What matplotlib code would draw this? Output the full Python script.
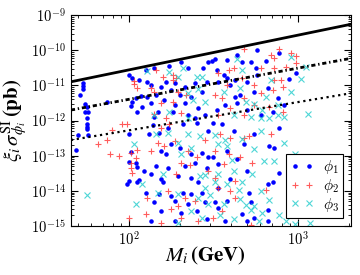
import numpy as np
import matplotlib
matplotlib.use('Agg')
import matplotlib.pyplot as plt

# values, stored as log10(M / GeV) and log10(xi*sigma / pb)
log_m_phi1 = [2.00, 2.02, 2.06, 1.73, 1.73, 1.73, 1.71, 2.04, 2.07, 1.87, 1.74, 1.75, 1.76, 1.74, 1.75, 2.01, 2.05, 2.02,
              2.10, 2.15, 2.24, 2.31, 2.35, 2.44, 2.47, 2.11, 2.13, 2.22, 2.27, 2.33, 2.19, 2.39, 2.46, 2.11, 2.16, 2.25,
              2.30, 2.37, 2.43, 2.13, 2.21, 2.27, 2.33, 2.41, 2.08, 2.17, 2.26, 2.35, 2.45, 2.15, 2.39,
              2.49, 2.51, 2.58, 2.64, 2.76, 2.72, 2.67, 2.75, 2.81, 2.89, 2.52, 2.56, 2.58, 2.53, 2.63, 2.70, 2.76, 2.60,
              2.66, 2.63, 2.57, 2.64, 2.74, 2.82, 2.88, 2.52, 2.70, 2.78, 2.85, 2.99, 2.95, 2.92,
              1.75, 1.75, 1.75, 1.70, 1.76, 2.00, 1.69, 2.01, 2.04, 2.00, 2.05, 2.00, 1.99, 2.06, 2.05,
              2.14, 2.18, 2.23, 2.32, 2.40, 2.47, 2.12, 2.19, 2.22, 2.25, 2.30, 2.37, 2.43, 2.47, 2.09, 2.16, 2.23, 2.33,
              2.39, 2.46, 2.13, 2.19, 2.29, 2.37, 2.41, 2.20, 2.10, 2.18, 2.25, 2.32, 2.37, 2.43, 2.15, 2.27, 2.35, 2.45,
              2.19, 2.31, 2.40, 2.27, 2.13, 2.46,
              2.50, 2.55, 2.62, 2.68, 2.74, 2.83, 2.86, 2.89, 2.50, 2.53, 2.58, 2.64, 2.70, 2.85, 2.82, 2.53, 2.60, 2.71,
              2.51, 2.58, 2.72, 2.53, 2.67, 2.74, 2.57, 2.70, 2.82, 2.89, 2.82]
log_s_phi1 = [-10.69, -10.78, -10.85, -10.93, -11.02, -11.10, -11.27, -11.35, -11.30, -11.46, -11.53, -11.61, -11.75, -11.75,
              -11.92, -11.58, -11.76, -11.46,
              -10.56, -10.51, -10.44, -10.33, -10.50, -10.49, -10.33, -10.90, -10.99, -10.90, -10.94, -11.04, -11.04,
              -10.94, -10.90, -11.32, -11.27, -11.13, -11.27, -11.32, -11.18, -11.51, -11.42, -11.56, -11.51, -11.65,
              -11.61, -11.75, -11.75, -11.84, -11.84, -11.89, -11.94,
              -10.30, -10.26, -10.28, -10.14, -9.99, -10.33, -10.34, -10.51, -10.31, -10.09, -10.56, -10.71, -10.78,
              -10.90, -10.85, -10.90, -10.71, -10.99, -11.27, -11.32, -11.56, -11.51, -11.18, -11.08, -11.37, -11.70,
              -11.70, -11.84, -11.75, -10.66, -10.82, -11.56,
              -12.10, -12.17, -12.24, -12.41, -12.41, -12.37, -12.84, -12.88, -13.22, -13.17, -13.32, -13.72, -13.79,
              -13.70, -13.74,
              -12.13, -12.34, -12.20, -12.11, -12.06, -12.30, -12.39, -12.86, -12.96, -12.67, -12.77, -12.96, -12.91,
              -13.05, -13.43, -13.29, -13.34, -13.29, -13.20, -13.34, -13.53, -13.67, -13.57, -13.62, -13.76, -13.76,
              -14.05, -14.09, -14.14, -14.05, -14.09, -14.05, -14.33, -14.28, -14.38, -14.33, -14.57, -14.62, -14.57,
              -14.85, -14.85, -14.80,
              -12.06, -12.11, -12.30, -12.67, -12.39, -12.72, -12.77, -12.20, -13.05, -13.24, -12.86, -13.10, -13.43,
              -13.76, -13.81, -13.91, -13.67, -14.05, -14.33, -14.28, -14.33, -14.48, -14.66, -14.76, -14.87, -14.87,
              -14.85, -13.48, -14.54]

log_m_phi2 = [2.03, 2.03, 2.05, 2.16, 2.20, 2.26, 2.26, 2.13, 2.28, 2.15, 2.29, 2.34, 2.19, 2.26, 2.15, 2.31, 2.22,
              2.68, 2.84, 2.86, 2.89, 2.62, 2.59, 2.53, 2.78, 2.67, 2.86, 2.86, 2.74, 2.58, 2.51, 2.78, 2.85, 2.68, 2.55,
              2.74, 2.60, 2.83, 2.68, 2.53, 2.96, 2.99, 2.93, 2.99, 2.90, 2.91, 2.91,
              1.96, 1.99, 1.90, 1.87, 1.82, 1.89, 1.94, 2.01, 2.05, 2.04, 2.01, 2.01, 2.02, 2.00,
              2.19, 2.24, 2.17, 2.21, 2.13, 2.27, 2.35, 2.31, 2.28, 2.40, 2.47, 2.11, 2.23, 2.33, 2.25, 2.39, 2.10, 2.31,
              2.41, 2.19, 2.29,
              2.54, 2.60, 2.68, 2.71, 2.84, 2.51, 2.59, 2.66, 2.73, 2.56, 2.63, 2.51, 2.60, 2.63, 2.55, 2.50,
              2.45, 2.53, 2.72, 2.36, 2.81]
log_s_phi2 = [-10.88, -10.97, -11.08, -10.56, -10.75, -10.69, -10.85, -11.08, -10.80, -11.20, -11.18, -11.27, -11.51,
              -11.46, -11.82, -11.79, -11.94,
              -9.95, -10.14, -10.23, -9.95, -10.51, -10.56, -10.66, -10.50, -10.80, -10.51, -10.85, -10.99, -10.99,
              -11.27, -11.22, -11.13, -11.37, -11.37, -11.56, -11.65, -11.61, -11.84, -11.84, -10.09, -10.16, -10.47,
              -10.37, -10.85, -11.04, -11.75,
              -12.09, -12.09, -12.28, -12.56, -12.66, -12.96, -13.01, -12.92, -12.84, -13.07, -13.20, -13.34, -13.48,
              -14.78,
              -12.20, -12.09, -12.63, -12.72, -12.86, -12.58, -12.86, -13.20, -13.53, -13.05, -13.43, -14.19, -14.00,
              -14.19, -14.52, -14.28, -14.66, -14.76, -14.85, -14.90, -14.43,
              -12.39, -12.49, -12.49, -12.44, -12.39, -12.86, -12.96, -13.05, -13.20, -13.24, -13.72, -13.62, -14.00,
              -14.19, -14.57, -14.76,
              -12.55, -13.91, -14.97, -13.26, -13.97]

log_m_phi3 = [2.11, 2.24, 2.29, 2.32, 2.40, 2.43, 2.41, 2.35, 2.38, 2.45, 2.24, 2.15, 2.35,
              2.64, 2.67, 2.84, 2.56, 2.66, 2.81, 2.69, 2.74, 2.79, 2.88, 2.62, 2.72, 2.83, 2.88, 2.78,
              2.96, 3.05, 3.02, 2.96, 2.92, 3.06,
              2.03, 1.75, 2.04,
              2.16, 2.23, 2.35, 2.42, 2.29, 2.37, 2.31, 2.20, 2.42, 2.08, 2.45, 2.17, 2.29, 2.41, 2.47, 2.37, 2.43, 2.29,
              2.53, 2.58, 2.67, 2.74, 2.78, 2.80, 2.86, 2.73, 2.53, 2.62, 2.51, 2.58, 2.67, 2.78, 2.56, 2.66, 2.74, 2.79,
              2.62, 2.77,
              2.92, 2.98, 2.93, 2.98, 3.07, 2.72,
              2.51, 2.57, 2.61, 2.65, 2.69, 2.54, 2.48, 2.45, 2.83, 2.89]
log_s_phi3 = [-10.59, -10.63, -10.75, -10.51, -10.75, -10.75, -11.10, -11.22, -11.42, -11.48, -11.75, -11.84, -11.94,
              -10.25, -10.56, -10.85, -11.18, -11.08, -11.32, -11.48, -11.54, -11.70, -11.56, -11.84, -11.89, -11.94,
              -11.84, -11.94,
              -10.19, -10.47, -10.83, -11.20, -11.89, -11.82,
              -12.67, -14.11, -14.36,
              -12.39, -12.34, -12.39, -12.44, -12.63, -12.77, -12.96, -13.53, -13.57, -13.81, -13.91, -14.05, -14.09,
              -14.19, -14.38, -14.57, -14.76, -14.90,
              -12.67, -12.72, -12.53, -12.82, -12.30, -13.15, -13.15, -13.53, -13.53, -13.43, -13.76, -13.81, -13.76,
              -14.00, -14.38, -14.24, -14.43, -14.62, -14.80, -14.85,
              -12.63, -12.96, -14.85, -14.95, -14.90, -14.54,
              -12.41, -12.55, -13.12, -13.97, -14.40, -14.68, -14.11, -13.55, -14.26, -14.68]

# straight reference lines (end points in GeV / pb)
line_m = [45.4, 2060]
solid_line = [1.27e-11, 5.5e-10]
dashdot_line = [2.0e-12, 5.9e-11]
dotted_line = [2.8e-13, 6.0e-12]

plt.rcParams['mathtext.fontset'] = 'cm'
plt.rcParams['font.family'] = 'serif'
plt.rcParams['font.serif'] = ['cmr10']
plt.rcParams['axes.formatter.use_mathtext'] = True

fig = plt.figure(figsize=(3.6, 2.75), dpi=100)
ax = fig.add_axes([0.197, 0.178, 0.778, 0.767])

ax.plot(10**np.array(log_m_phi1), 10**np.array(log_s_phi1), '.', color='b', ms=4.5, label=r'$\phi_1$')
ax.plot(10**np.array(log_m_phi2), 10**np.array(log_s_phi2), '+', color='#ff3333', ms=5, mew=0.8, alpha=0.8, label=r'$\phi_2$')
ax.plot(10**np.array(log_m_phi3), 10**np.array(log_s_phi3), 'x', color='#22cccc', ms=4, mew=0.8, alpha=0.8, label=r'$\phi_3$')

ax.plot(line_m, solid_line, '-', color='k', lw=2)
ax.plot(line_m, dashdot_line, color='k', lw=2, dashes=(1.5, 1, 0.5, 1))
ax.plot(line_m, dotted_line, ':', color='k', lw=1.6)

ax.set_xscale('log')
ax.set_yscale('log')
ax.set_xlim(45.4, 2060)
ax.set_ylim(1e-15, 1e-9)

ax.tick_params(which='both', direction='in', top=True, right=True, labelsize=10.5)
ax.tick_params(which='major', length=5)
ax.tick_params(which='minor', length=2.5)

ax.set_xlabel(r'$\boldsymbol{M_i}\,\mathbf{(GeV)}$', fontsize=15, math_fontfamily='stix')
ax.xaxis.set_label_coords(0.48, -0.09)
ax.xaxis.label.set_va('top')
ax.set_ylabel(r'$\boldsymbol{\xi_i\,\sigma^{\rm SI}_{\phi_i}}\,\mathbf{(pb)}$', fontsize=15,
              math_fontfamily='stix')
ax.yaxis.set_label_coords(-0.145, 0.5)

leg = ax.legend(loc='lower right', numpoints=2, fontsize=11, fancybox=False, framealpha=1,
                edgecolor='k', borderaxespad=0.5, handlelength=1.5, handletextpad=0.6,
                labelspacing=0.05, borderpad=0.3)
leg.get_frame().set_linewidth(0.8)

fig.savefig('out.png', dpi=100)
